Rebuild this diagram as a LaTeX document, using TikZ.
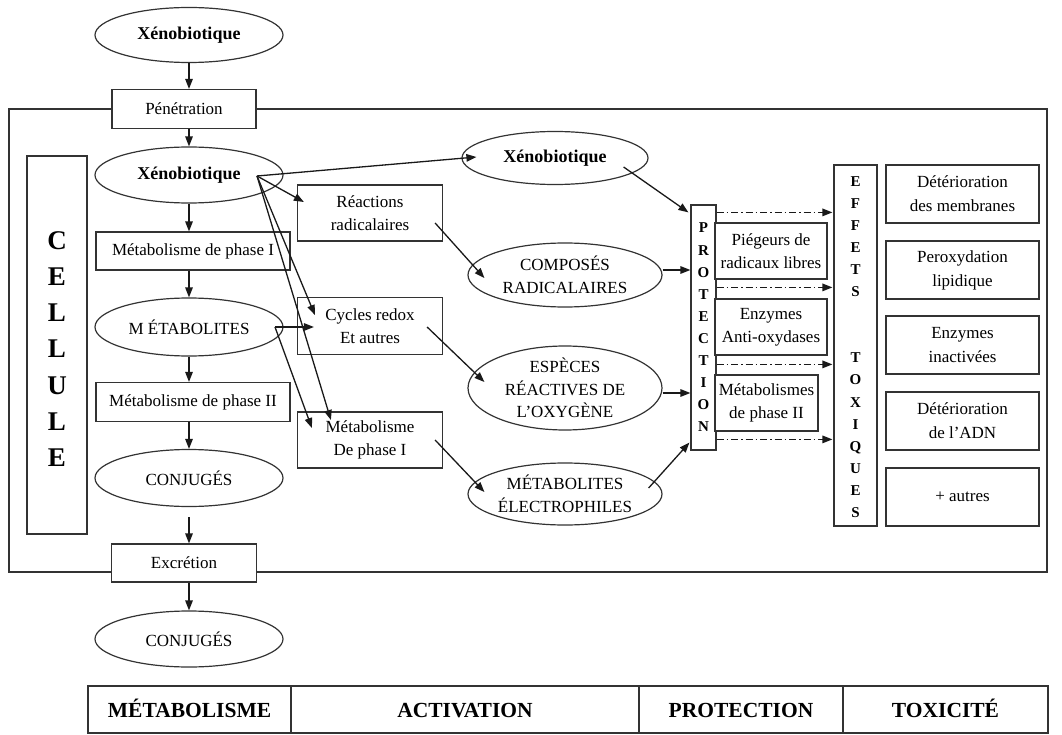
\documentclass[tikz,border=0pt]{standalone}
\usepackage{fontspec}
\setmainfont{Liberation Serif}
\usetikzlibrary{shapes.geometric,arrows.meta,calc}
\begin{document}
\begin{tikzpicture}[x=1pt,y=-1pt,
  every node/.style={font=\fontsize{17}{23}\selectfont},
  box/.style={draw=black!80, line width=1.2pt, fill=white, rectangle, inner sep=0pt, align=center},
  ell/.style={draw=black!80, line width=1.2pt, fill=white, ellipse, inner sep=0pt,
              minimum width=188pt, minimum height=56pt, align=center},
  bftext/.style={font=\fontsize{18}{23}\selectfont\bfseries},
  arr/.style={draw=black!90, line width=1.3pt, -{Triangle[length=10pt,width=7.5pt]}},
  dd/.style={arr, dash pattern=on 7pt off 3pt on 1.5pt off 3pt},
  stack/.style={align=center, font=\fontsize{15}{22.1}\selectfont\bfseries},
  tabcell/.style={box, minimum height=47pt, text height=15pt, text depth=0pt,
                  font=\fontsize{21.5}{24}\selectfont\bfseries},
]
\useasboundingbox (0,0) rectangle (1062,735);

% cell membrane
\draw[draw=black!80, line width=1.2pt] (9,109) rectangle (1047,572);

% ---- metabolism column ----
\node[ell, bftext, minimum height=55pt] (xeno1) at (189,35) {Xénobiotique};
\node[box, minimum width=144pt, minimum height=39pt] (pen) at (184,109) {Pénétration};
\node[ell, bftext] (xeno2) at (189,175) {Xénobiotique};
\node[box, minimum width=194pt, minimum height=38pt] (m1) at (193,251) {Métabolisme de phase I};
\node[ell, minimum height=58pt] (metab) at (189,327) {M ÉTABOLITES};
\node[box, minimum width=194pt, minimum height=39pt] (m2) at (193,402) {Métabolisme de phase II};
\node[ell, minimum height=57pt] (conj1) at (189,478) {CONJUGÉS};
\node[box, minimum width=145pt, minimum height=38pt] (excr) at (184,563) {Excrétion};
\node[ell] (conj2) at (189,639) {CONJUGÉS};

\node[box, minimum width=60pt, minimum height=378pt] (cellule) at (57,345) {};
\node[align=center, font=\fontsize{27}{36.2}\selectfont\bfseries] at ($(cellule)+(0,4)$) {C\\E\\L\\L\\U\\L\\E};

\draw[arr] (xeno1.south) -- (pen.north -| xeno1.south);
\draw[arr] (pen.south -| xeno1.south) -- (xeno2.north);
\draw[arr] (xeno2.south) -- (m1.north -| xeno2.south);
\draw[arr] (m1.south -| metab.north) -- (metab.north);
\draw[arr] (metab.south) -- (m2.north -| metab.south);
\draw[arr] (m2.south -| conj1.north) -- (conj1.north);
\draw[arr] ($(conj1.south)+(0,10)$) -- (excr.north -| conj1.south);
\draw[arr] (excr.south -| conj2.north) -- (conj2.north);

% ---- activation column ----
\node[box, minimum width=145pt, minimum height=56pt] (rr) at (370,213) {Réactions\\radicalaires};
\node[box, minimum width=145pt, minimum height=57pt] (cr) at (370,326) {Cycles redox\\Et autres};
\node[box, minimum width=145pt, minimum height=56pt] (mp1) at (370,440) {Métabolisme\\De phase I};

\node[ell, bftext, minimum width=186pt, minimum height=53pt] (xeno3) at (555,158) {Xénobiotique};
\node[ell, minimum width=194pt, minimum height=64pt,
      label={[align=center]center:COMPOSÉS\\RADICALAIRES}] (comp) at (565,275) {};
\node[ell, minimum width=194pt, minimum height=84pt,
      label={[align=center, font=\fontsize{17}{22.5}\selectfont]center:ESPÈCES\\RÉACTIVES DE\\L’OXYGÈNE}] (esp) at (565,388) {};
\node[ell, minimum width=194pt, minimum height=62pt,
      label={[align=center]center:MÉTABOLITES\\ÉLECTROPHILES}] (metel) at (565,494) {};

\coordinate (o1) at ($(xeno2.center)+(68,1)$);
\coordinate (o2) at ($(metab.center)+(86,0)$);
\draw[arr] (o1) -- ($(xeno3.west)+(15,-1)$);
\draw[arr] (o1) -- ($(rr.west)+(7,-11)$);
\draw[arr] (o1) -- ($(cr.west)+(18,-11)$);
\draw[arr] (o1) -- ($(mp1.west)+(34,-20)$);
\draw[arr] (o2) -- ($(cr.west)+(17,1)$);
\draw[arr] (o2) -- ($(mp1.west)+(15,-12)$);

\draw[arr] ($(rr.east)+(-8,10)$) -- ($(comp.west)+(17,3)$);
\draw[arr] ($(cr.east)+(-16,1)$) -- ($(esp.west)+(17,-6)$);
\draw[arr] ($(mp1.east)+(-8,0)$) -- ($(metel.west)+(17,-2)$);

% ---- protection column ----
\node[box, minimum width=25pt, minimum height=245pt] (prot) at (703.5,327.5) {};
\node[stack] at (prot) {P\\R\\O\\T\\E\\C\\T\\I\\O\\N};

\node[box, minimum width=112pt, minimum height=56pt] (pie) at (771,251) {Piégeurs de\\radicaux libres};
\node[box, minimum width=112pt, minimum height=56pt] (enz) at (771,327) {Enzymes\\Anti-oxydases};
\node[box, minimum width=103pt, minimum height=56pt] (mph2) at (766.5,403) {Métabolismes\\de phase II};

\draw[arr] ($(xeno3.east)+(-25,9)$) -- ($(prot.north west)+(-2,8)$);
\coordinate (c1) at ($(comp.east)+(0,-5)$);
\coordinate (c2) at ($(esp.east)+(0,5)$);
\draw[arr] (c1) -- (c1 -| prot.west);
\draw[arr] (c2) -- (c2 -| prot.west);
\draw[arr] ($(metel.east)+(-14,-6)$) -- ($(prot.south west)+(-1,-8)$);

% ---- toxic effects ----
\node[box, minimum width=43pt, minimum height=361pt] (eff) at (855.5,345.5) {};
\node[stack] at (855.5,347) {E\\F\\F\\E\\T\\S\\[44.2pt]T\\O\\X\\I\\Q\\U\\E\\S};

\foreach \dy in {8,83,160,235}
  \draw[dd] ($(prot.north east)+(0,\dy)$) -- ($(prot.north east -| eff.west)+(-1,\dy)$);

\tikzset{effbox/.style={box, minimum width=153pt, minimum height=58pt, font=\fontsize{17}{24}\selectfont}}
\node[effbox] (e1) at (962.5,194) {Détérioration\\des membranes};
\node[effbox] (e2) at (962.5,270) {Peroxydation\\lipidique};
\node[effbox] (e3) at (962.5,345) {Enzymes\\inactivées};
\node[effbox] (e4) at (962.5,421) {Détérioration\\de l’ADN};
\node[effbox] (e5) at (962.5,497) {+ autres};

% ---- phase legend ----
\node[tabcell, minimum width=203pt] (t1) at (189.5,709.5) {MÉTABOLISME};
\node[tabcell, minimum width=348pt] (t2) at (465,709.5) {ACTIVATION};
\node[tabcell, minimum width=204pt] (t3) at (741,709.5) {PROTECTION};
\node[tabcell, minimum width=205pt] (t4) at (945.5,709.5) {TOXICITÉ};
\end{tikzpicture}
\end{document}
